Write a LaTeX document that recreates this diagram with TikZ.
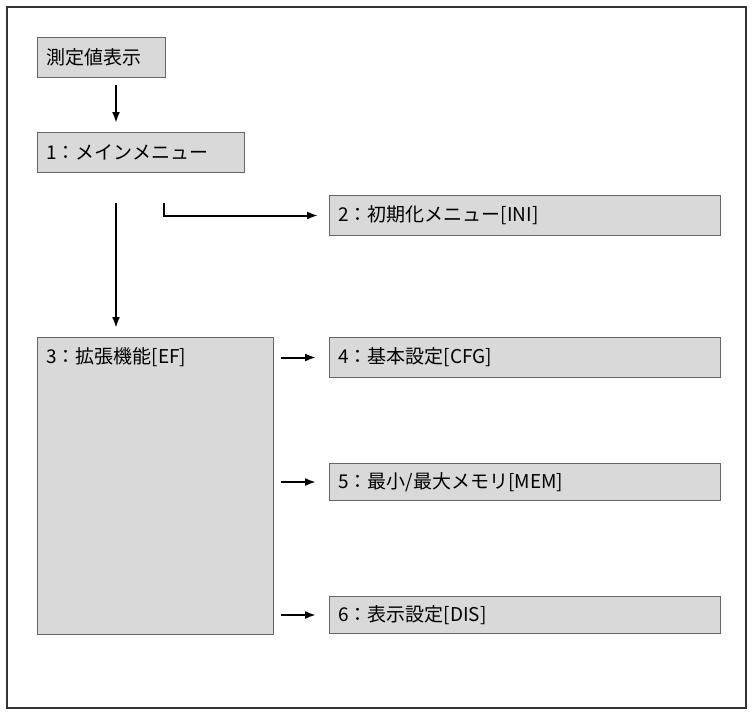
\documentclass[tikz,border=0pt]{standalone}
\usepackage{fontspec}
\setmainfont{Noto Sans CJK JP}
\usetikzlibrary{positioning,arrows.meta}
\tikzset{
  box/.style={draw=gray!80!black, line width=1pt, fill=gray!30, anchor=north west, inner sep=0pt},
  lbl/.style={anchor=west, inner xsep=9pt, font=\fontsize{19}{22}\selectfont},
  arr/.style={-{Latex[length=11pt,width=8pt]}, line width=2pt}
}
\begin{document}
\begin{tikzpicture}[x=1pt, y=-1pt]
  \useasboundingbox (0,0) rectangle (754,715);
  \draw[line width=1.6pt, draw=black!80] (7,7) rectangle (746,708);

  % boxes
  \node[box, minimum width=128pt, minimum height=40pt] (meas) at (37,37) {};
  \node[lbl] at (meas.west) {測定値表示};
  \node[box, minimum width=207pt, minimum height=40pt] (main) at (37,132) {};
  \node[lbl] at (main.west) {1：メインメニュー};
  \node[box, minimum width=391pt, minimum height=40pt] (ini) at (329,195) {};
  \node[lbl] at (ini.west) {2：初期化メニュー[INI]};
  \node[box, minimum width=236pt, minimum height=297pt] (ef) at (37,337) {};
  \node[lbl] (eftext) at (37,357) {3：拡張機能[EF]};
  \node[box, minimum width=391pt, minimum height=40pt] (cfg) at (329,337) {};
  \node[lbl] at (cfg.west) {4：基本設定[CFG]};
  \node[box, minimum width=391pt, minimum height=37pt] (mem) at (329,463) {};
  \node[lbl] at (mem.west) {5：最小/最大メモリ[MEM]};
  \node[box, minimum width=391pt, minimum height=37pt] (dis) at (329,596) {};
  \node[lbl] at (dis.west) {6：表示設定[DIS]};

  % connectors
  \coordinate (a1) at (116,85);
  \coordinate (a2) at (116,203);
  \coordinate (a3) at (164,203);
  \draw[arr] (a1) -- (116,123);
  \draw[arr] (a2) -- (116,328);
  \draw[arr] (a3) |- ([xshift=-11pt]ini.west);
  \foreach \n in {cfg,mem,dis}
    \draw[arr] ([xshift=-48pt]\n.west) -- ([xshift=-13pt]\n.west);
\end{tikzpicture}
\end{document}
